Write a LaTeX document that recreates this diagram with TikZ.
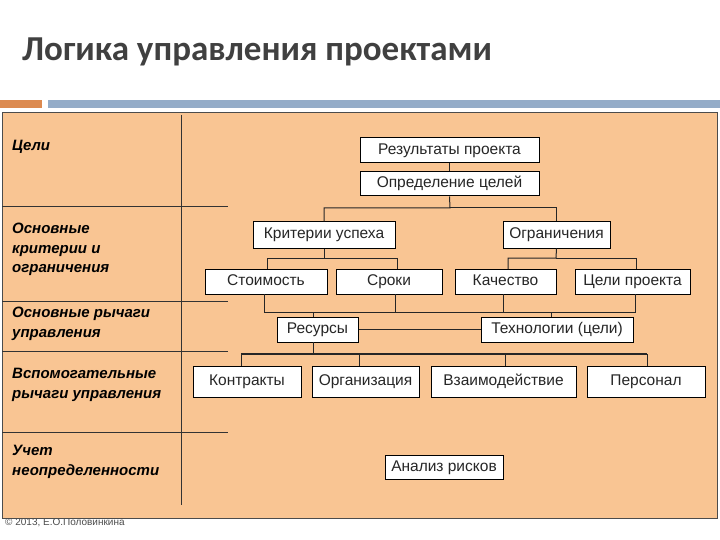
\documentclass[tikz,border=0pt]{standalone}
\usepackage{fontspec}
\setmainfont{Liberation Sans}
\newfontfamily\titlefont{Carlito}
\definecolor{panel}{HTML}{F9C593}
\definecolor{bluebar}{HTML}{94ACC8}
\definecolor{orbar}{HTML}{DC8A50}
\begin{document}
\begin{tikzpicture}[x=1pt,y=-1pt,
  box/.style={draw=black,line width=1pt,fill=white,inner sep=0pt,font=\fontsize{15.5}{15.5}\selectfont,text=black!85,text height=11pt,text depth=3pt},
  lab/.style={anchor=north west,align=left,font=\fontsize{15}{19.5}\selectfont\bfseries\itshape,inner sep=0pt},
  ln/.style={line width=1pt,draw=black!85},
  sep/.style={line width=1pt,draw=black!80}]
\useasboundingbox (0,0) rectangle (720,540);
\fill[white] (0,0) rectangle (720,540);
\node[anchor=west,inner sep=0pt,text=black!75,font=\titlefont\fontsize{35}{35}\selectfont\bfseries] (title) at (22,52) {Логика управления проектами};
\fill[orbar] (0,100) rectangle (42,108);
\fill[bluebar] (48,100) rectangle (720,108);
\draw[black!70,fill=panel] (2,112) rectangle (717,518);
\draw[sep] (181,115) -- (181,505);
\foreach \y in {207,301,351,432} \draw[sep] (2,\y) -- (228,\y);
\node[lab] (l1) at (12,140) {Цели};
\node[lab] (l2) at (12,223) {Основные\\критерии и\\ограничения};
\node[lab] (l3) at (12,307) {Основные рычаги\\управления};
\node[lab] (l4) at (12,368) {Вспомогательные\\рычаги управления};
\node[lab] (l5) at (12,445) {Учет\\неопределенности};
% boxes
\newcommand\bx[6]{\node[box,minimum width=#4-#2,minimum height=#5-#3] (#1) at ({(#2+#4)/2},{(#3+#5)/2}) {#6};}
\bx{res}{360}{138}{539}{163}{Результаты проекта}
\bx{opr}{360}{172}{539}{196}{Определение целей}
\bx{krit}{253}{222}{395}{248}{Критерии успеха}
\bx{ogr}{503}{222}{610}{248}{Ограничения}
\bx{st}{205}{269}{327}{294}{Стоимость}
\bx{sr}{336}{269}{442}{294}{Сроки}
\bx{kach}{455}{269}{556}{294}{Качество}
\bx{celi}{575}{269}{690}{294}{Цели проекта}
\bx{resur}{277}{317}{358}{342}{Ресурсы}
\bx{tech}{481}{317}{633}{342}{Технологии (цели)}
\bx{kon}{193}{366}{301}{397}{Контракты}
\bx{org}{312}{366}{419}{397}{Организация}
\bx{vz}{431}{366}{576}{397}{Взаимодействие}
\bx{pers}{587}{366}{705}{397}{Персонал}
\bx{an}{385}{455}{503}{479}{Анализ рисков}
% connectors
\draw[ln] (res) -- (opr);
\draw[ln] (opr.south) -- (450,208) -| (krit.north);
\draw[ln] (450,208) -| (ogr.north);
\draw[ln] (krit.south) -- (324,258) -| (267,269);
\draw[ln] (324,258) -| (397,269);
\draw[ln] (ogr.south) -- (556,258) -| (508,269);
\draw[ln] (556,258) -| (636,269);
\draw[ln] (264,294) -- (264,312) -- (635,312) -- (635,294);
\draw[ln] (395,294) -- (395,312);
\draw[ln] (503,294) -- (503,312);
\draw[ln] (313,312) -- (313,317);
\draw[ln] (551,312) -- (551,317);
\draw[ln] (resur) -- (tech);
\draw[ln] (313,342) -- (313,354);
\draw[line width=2pt,black!85] (241,354) -- (647,354);
\draw[ln] (241,354) -- (241,366);
\draw[ln] (359,354) -- (359,366);
\draw[ln] (505,354) -- (505,366);
\draw[ln] (647,354) -- (647,366);
\node[anchor=west,inner sep=0pt,font=\fontsize{10}{10}\selectfont,text=black!70] (foot) at (5,523) {© 2013, Е.О.Половинкина};
\end{tikzpicture}
\end{document}
